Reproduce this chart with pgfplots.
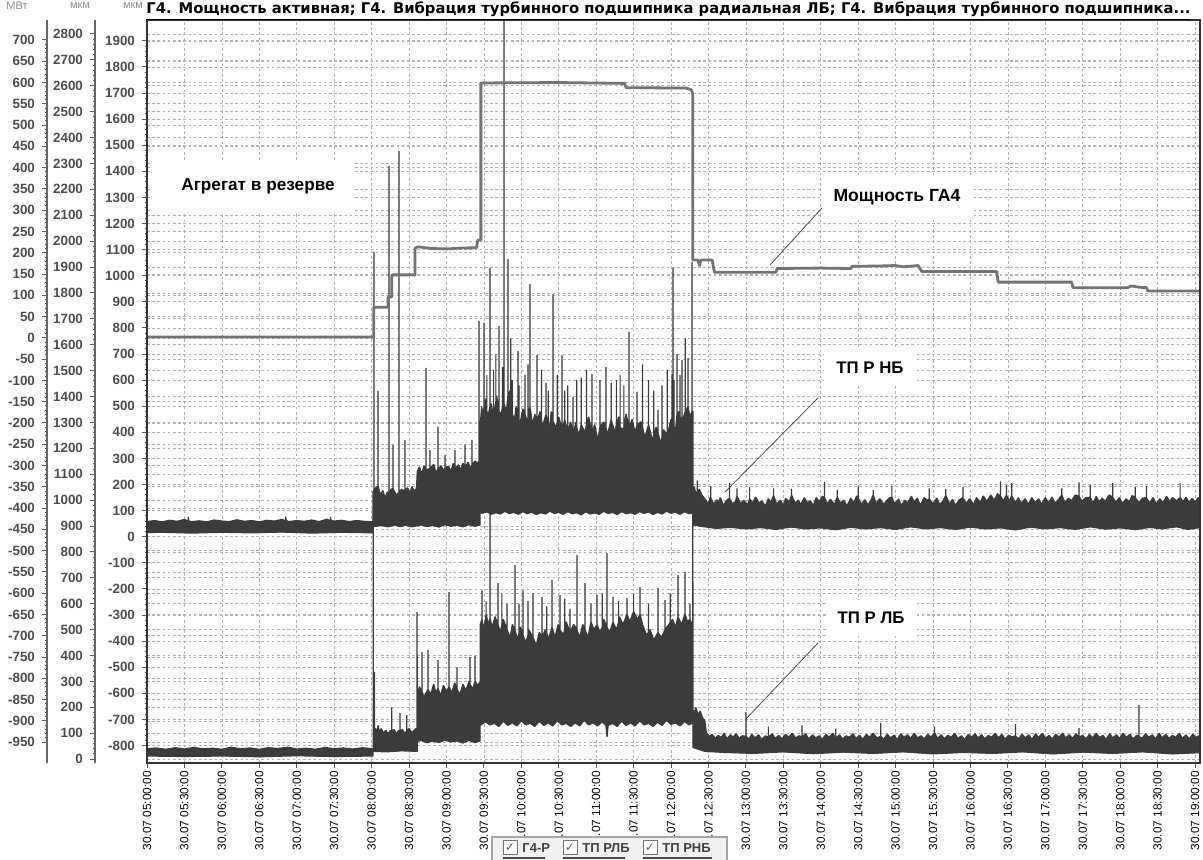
\documentclass[border=0pt]{standalone}
\usepackage{fontspec}
\setmainfont{Liberation Sans}
\newfontfamily\dejavu{DejaVu Sans}
\usepackage{pgfplots}
\pgfplotsset{compat=1.18}
\pgfplotsset{
  base/.style={at={(73.5pt,48.5pt)}, anchor=south west, scale only axis,
    width=526.5pt, height=371.5pt, xmin=5, xmax=19.066},
  gridonly/.style={base, axis line style={draw=none}, xtick=\empty,
    major tick length=0pt, minor tick length=0pt, yticklabel={\mbox{}}, ymajorgrids,
    grid style={gray!60, line width=0.35pt, dash pattern=on 1.3pt off 1.3pt}},
  ruler/.style={anchor=south west, scale only axis, width=1pt, height=371.5pt,
    xmin=0, xmax=1, axis y line=left, axis x line=none,
    y axis line style={-, line width=1.3pt, draw=black!60},
    tick align=outside, major tick length=2.5pt, minor tick length=1.2pt,
    tick style={black!65, line width=0.5pt}, minor y tick num=4,
    yticklabel style={font=\fontsize{6.7}{7}\bfseries\selectfont, text=black!70},
    /pgf/number format/assume math mode=true, /pgf/number format/1000 sep={}},
  band/.style={fill=black!77, draw=black!77, line width=0.6pt, line join=bevel},
}
\begin{document}
\begin{tikzpicture}
\path[use as bounding box] (0pt,0pt) rectangle (601.5pt,430pt);
% grids of axis 1 and axis 2
\begin{axis}[gridonly, ymin=-999, ymax=747, ytick={-950,-900,...,700}]
\end{axis}
\begin{axis}[gridonly, ymin=-15, ymax=2854, ytick={0,100,...,2800}]
\end{axis}
% main axis (axis 3, TP RNB)
\begin{axis}[base, ymin=-867, ymax=1980,
  xtick={5,5.5,...,19},
  xticklabels={30.07 05:00:00, 30.07 05:30:00, 30.07 06:00:00, 30.07 06:30:00, 30.07 07:00:00, 30.07 07:30:00, 30.07 08:00:00, 30.07 08:30:00, 30.07 09:00:00, 30.07 09:30:00, 30.07 10:00:00, 30.07 10:30:00, 30.07 11:00:00, 30.07 11:30:00, 30.07 12:00:00, 30.07 12:30:00, 30.07 13:00:00, 30.07 13:30:00, 30.07 14:00:00, 30.07 14:30:00, 30.07 15:00:00, 30.07 15:30:00, 30.07 16:00:00, 30.07 16:30:00, 30.07 17:00:00, 30.07 17:30:00, 30.07 18:00:00, 30.07 18:30:00, 30.07 19:00:00},
  x tick label style={rotate=90, anchor=east, font=\fontsize{5.9}{6}\selectfont, inner sep=1.5pt},
  ytick={-800,-700,...,1900}, minor y tick num=4,
  yticklabel style={font=\fontsize{6.7}{7}\bfseries\selectfont, text=black!70},
  /pgf/number format/assume math mode=true, /pgf/number format/1000 sep={},
  xmajorgrids, ymajorgrids,
  grid style={gray!60, line width=0.35pt, dash pattern=on 1.3pt off 1.3pt},
  axis line style={line width=1pt, black!80},
  tick align=outside, major tick length=2.5pt, minor tick length=1.2pt,
  tick style={black!65, line width=0.5pt}, tick pos=left]
\addplot[band] coordinates {
(5.00,16)
(5.00,58) (5.10,62) (5.20,57) (5.30,63) (5.40,59) (5.50,66) (5.55,60) (5.55,76) (5.56,60) (5.60,58) (5.70,61) (5.80,57) (5.90,64) (6.00,60) (6.10,58) (6.20,65) (6.30,59) (6.40,62) (6.50,57) (6.60,63) (6.70,60) (6.80,66) (6.85,62) (6.85,78) (6.86,62) (6.90,58) (7.00,62) (7.10,59) (7.20,64) (7.30,58) (7.40,67) (7.45,62) (7.45,76) (7.46,62) (7.50,60) (7.60,63) (7.70,58) (7.80,62) (7.90,59) (8.01,57)
(8.02,57) (8.02,175) (8.032,175) (8.032,1091) (8.032,175) (8.06,190) (8.086,195) (8.086,559) (8.086,195) (8.12,160) (8.15,178) (8.18,150) (8.21,172) (8.233,165) (8.233,1421) (8.233,165) (8.26,182) (8.286,185) (8.286,352) (8.286,185) (8.33,160) (8.366,170) (8.366,1478) (8.366,170) (8.40,182) (8.446,175) (8.446,370) (8.446,175) (8.48,188) (8.51,168) (8.54,192) (8.57,175) (8.60,185)
(8.61,250) (8.64,268) (8.67,240) (8.70,272) (8.727,255) (8.727,647) (8.727,255) (8.780,262) (8.780,332) (8.780,262) (8.83,278) (8.86,245) (8.887,260) (8.887,421) (8.887,260) (8.93,272) (8.96,252) (8.981,265) (8.981,313) (8.981,265) (9.03,270) (9.06,250) (9.09,282) (9.114,262) (9.114,332) (9.114,262) (9.16,276) (9.19,255) (9.22,282) (9.248,265) (9.248,352) (9.248,265) (9.29,286) (9.32,260) (9.341,275) (9.341,371) (9.341,275) (9.38,290) (9.42,282) (9.435,290) (9.435,827) (9.435,290)
(9.45,420) (9.47,500) (9.49,460) (9.502,500) (9.502,820) (9.502,500) (9.53,530) (9.54,480) (9.54,620) (9.54,480) (9.56,470) (9.582,500) (9.582,1030) (9.582,500) (9.60,510) (9.63,450) (9.63,640) (9.63,450) (9.66,520) (9.66,700) (9.66,520) (9.67,540) (9.702,480) (9.702,807) (9.702,480) (9.73,470) (9.75,500) (9.75,650) (9.75,500) (9.769,510) (9.769,2300) (9.769,510) (9.80,480) (9.822,540) (9.822,1064) (9.822,540) (9.85,560) (9.86,500) (9.86,760) (9.86,500) (9.88,470) (9.88,600) (9.88,470) (9.91,450) (9.93,500) (9.956,460) (9.956,712) (9.956,460) (9.97,440) (9.97,580) (9.97,440) (9.98,430) (10.02,490) (10.05,470) (10.05,620) (10.05,470) (10.08,440) (10.09,460) (10.09,660) (10.09,460) (10.116,500) (10.116,969) (10.116,500) (10.15,430) (10.18,470) (10.21,440) (10.21,697) (10.21,440) (10.25,480) (10.27,450) (10.27,640) (10.27,450) (10.28,420) (10.33,470) (10.33,590) (10.33,470) (10.36,420) (10.36,560) (10.36,420) (10.37,400) (10.40,480) (10.424,440) (10.424,930) (10.424,440) (10.46,420) (10.48,440) (10.48,620) (10.48,440) (10.50,460) (10.544,410) (10.544,697) (10.544,410) (10.58,450) (10.58,560) (10.58,450) (10.62,400) (10.62,580) (10.62,400) (10.66,440) (10.691,390) (10.691,535) (10.691,390) (10.73,440) (10.74,420) (10.74,600) (10.74,420) (10.77,390) (10.80,430) (10.80,610) (10.80,430) (10.85,400) (10.87,430) (10.87,640) (10.87,430) (10.90,460) (10.944,400) (10.944,623) (10.944,400) (10.98,430) (11.02,370) (11.05,420) (11.05,600) (11.05,420) (11.10,440) (11.13,420) (11.13,650) (11.13,420) (11.15,390) (11.20,450) (11.20,590) (11.20,450) (11.25,400) (11.27,430) (11.27,600) (11.27,430) (11.30,460) (11.32,420) (11.32,620) (11.32,420) (11.36,410) (11.37,420) (11.37,580) (11.37,420) (11.40,470) (11.439,420) (11.439,785) (11.439,420) (11.48,450) (11.52,400) (11.546,430) (11.546,555) (11.546,430) (11.60,440) (11.62,420) (11.62,660) (11.62,420) (11.65,380) (11.70,430) (11.70,600) (11.70,430) (11.75,370) (11.77,390) (11.77,560) (11.77,390) (11.80,420) (11.826,400) (11.826,486) (11.826,400) (11.86,360) (11.88,380) (11.88,580) (11.88,380) (11.90,410) (11.95,390) (11.95,640) (11.95,390) (12.00,450) (12.013,430) (12.013,623) (12.013,430) (12.027,440) (12.027,1030) (12.027,440) (12.04,420) (12.04,600) (12.04,420) (12.06,410) (12.08,470) (12.08,700) (12.08,470) (12.11,480) (12.12,460) (12.12,620) (12.12,460) (12.147,440) (12.147,677) (12.147,440) (12.19,480) (12.19,760) (12.19,480) (12.227,500) (12.227,685) (12.227,500) (12.25,460) (12.28,480) (12.28,1053) (12.28,480)
(12.293,480) (12.293,175) (12.31,190) (12.33,168) (12.35,172) (12.35,215) (12.35,172) (12.38,182) (12.41,160) (12.44,150) (12.47,138) (12.50,128) (12.52,150) (12.53,150) (12.53,195) (12.53,150) (12.57,125) (12.61,142) (12.63,132) (12.66,150) (12.70,120) (12.74,138) (12.78,148) (12.78,205) (12.78,148) (12.82,126) (12.86,135) (12.88,155) (12.88,185) (12.88,155) (12.93,128) (12.97,140) (13.02,122) (13.05,145) (13.05,190) (13.05,145) (13.09,130) (13.13,152) (13.18,128) (13.21,138) (13.26,118) (13.30,146) (13.33,132) (13.37,158) (13.37,185) (13.37,158) (13.41,126) (13.46,140) (13.50,120) (13.53,147) (13.58,134) (13.61,160) (13.61,182) (13.61,160) (13.66,128) (13.70,141) (13.73,122) (13.78,150) (13.82,130) (13.86,138) (13.90,120) (13.94,150) (13.98,135) (14.02,155) (14.05,150) (14.05,210) (14.05,150) (14.09,126) (14.13,144) (14.18,124) (14.22,152) (14.22,180) (14.22,152) (14.26,130) (14.31,140) (14.35,118) (14.40,148) (14.44,132) (14.48,156) (14.50,150) (14.50,192) (14.50,150) (14.54,125) (14.59,142) (14.63,122) (14.67,140) (14.70,160) (14.70,180) (14.70,160) (14.74,128) (14.79,146) (14.84,124) (14.88,138) (14.92,150) (14.95,150) (14.95,195) (14.95,150) (14.99,126) (15.04,145) (15.08,120) (15.12,140) (15.16,130) (15.21,155) (15.25,134) (15.29,148) (15.33,122) (15.38,150) (15.42,140) (15.45,145) (15.45,185) (15.45,145) (15.50,126) (15.55,148) (15.59,124) (15.63,136) (15.67,158) (15.67,182) (15.67,158) (15.72,126) (15.76,144) (15.80,120) (15.85,142) (15.90,150) (15.90,190) (15.90,150) (15.94,128) (15.99,146) (16.04,124) (16.08,150) (16.13,132) (16.17,156) (16.22,136) (16.27,160) (16.32,140) (16.36,165) (16.40,155) (16.40,212) (16.40,155) (16.44,138) (16.48,160) (16.48,198) (16.48,160) (16.52,136) (16.55,158) (16.55,205) (16.55,158) (16.60,130) (16.64,150) (16.68,128) (16.73,146) (16.77,124) (16.82,150) (16.86,132) (16.91,145) (16.95,125) (17.00,150) (17.04,130) (17.09,152) (17.13,128) (17.18,145) (17.22,160) (17.22,185) (17.22,160) (17.26,132) (17.31,148) (17.35,138) (17.40,160) (17.45,155) (17.45,208) (17.45,155) (17.49,136) (17.54,150) (17.60,150) (17.60,198) (17.60,150) (17.64,130) (17.68,155) (17.72,133) (17.76,148) (17.80,136) (17.85,160) (17.90,152) (17.90,205) (17.90,152) (17.94,132) (17.99,150) (18.03,128) (18.08,145) (18.12,134) (18.16,158) (18.20,150) (18.20,190) (18.20,150) (18.25,132) (18.30,148) (18.35,150) (18.35,195) (18.35,150) (18.39,130) (18.44,150) (18.48,126) (18.53,146) (18.57,130) (18.62,155) (18.66,135) (18.70,150) (18.75,138) (18.80,150) (18.80,205) (18.80,150) (18.84,135) (18.88,152) (18.92,130) (18.96,148) (19.00,132) (19.04,150) (19.07,140)
(19.07,35) (18.9,28) (18.75,38) (18.55,30) (18.4,36) (18.2,27) (18.0,34) (17.8,29) (17.6,38) (17.4,28) (17.2,35) (17.0,30) (16.8,37) (16.6,26) (16.4,34) (16.2,30) (16.0,37) (15.8,28) (15.6,35) (15.4,30) (15.2,38) (15.0,28) (14.8,35) (14.6,30) (14.4,36) (14.2,27) (14.0,34) (13.8,30) (13.6,37) (13.4,28) (13.2,35) (13.0,30) (12.8,36) (12.6,32) (12.4,40) (12.294,45)
(12.294,92) (12.24,88) (12.18,96) (12.12,86) (12.06,94) (12.00,90) (11.94,98) (11.88,87) (11.82,93) (11.76,85) (11.70,95) (11.64,89) (11.58,97) (11.52,86) (11.46,92) (11.40,88) (11.34,96) (11.28,85) (11.22,93) (11.16,89) (11.10,97) (11.04,86) (10.98,91) (10.92,87) (10.86,95) (10.80,84) (10.74,92) (10.68,88) (10.62,96) (10.56,86) (10.50,93) (10.44,89) (10.38,98) (10.32,87) (10.26,92) (10.20,85) (10.14,94) (10.08,88) (10.02,96) (9.96,86) (9.90,93) (9.84,89) (9.78,97) (9.72,87) (9.66,92) (9.60,86) (9.54,95) (9.48,90) (9.45,92)
(9.45,45) (9.38,40) (9.30,46) (9.22,38) (9.14,44) (9.06,40) (8.98,46) (8.90,37) (8.82,43) (8.74,39) (8.66,45) (8.61,42) (8.54,38) (8.46,44) (8.38,39) (8.30,45) (8.22,38) (8.14,43) (8.06,40) (8.02,40)
(8.02,15) (7.6,17) (7.2,14) (6.8,18) (6.4,15) (6.0,17) (5.6,14) (5.2,17) (5.0,16)
};
\end{axis}
% TP RLB on axis 2
\begin{axis}[base, hide axis, ymin=-15, ymax=2854]
\addplot[band] coordinates {
(5.00,12)
(5.00,40) (5.12,43) (5.25,38) (5.38,44) (5.50,39) (5.62,45) (5.75,40) (5.88,42) (6.00,38) (6.12,46) (6.25,40) (6.38,43) (6.50,38) (6.62,44) (6.75,41) (6.88,46) (7.00,39) (7.12,42) (7.25,38) (7.38,45) (7.50,40) (7.62,43) (7.75,39) (7.88,44) (8.01,40)
(8.022,40) (8.022,950) (8.022,130) (8.04,130) (8.04,336) (8.04,120) (8.07,110) (8.09,131) (8.10,105) (8.13,118) (8.16,100) (8.19,112) (8.22,98) (8.25,110) (8.27,105) (8.27,200) (8.27,105) (8.30,115) (8.33,98) (8.36,110) (8.38,105) (8.38,178) (8.38,105) (8.41,115) (8.44,100) (8.47,108) (8.47,170) (8.47,108) (8.50,118) (8.54,102) (8.58,115)
(8.607,120) (8.607,568) (8.61,250) (8.64,280) (8.674,260) (8.674,413) (8.674,260) (8.70,240) (8.754,270) (8.754,421) (8.754,270) (8.79,250) (8.83,290) (8.86,255) (8.887,275) (8.887,382) (8.887,275) (8.92,245) (8.96,285) (9.00,260) (9.034,280) (9.034,645) (9.034,280) (9.07,255) (9.11,295) (9.141,270) (9.141,355) (9.141,270) (9.18,250) (9.22,290) (9.26,265) (9.30,300) (9.315,290) (9.315,394) (9.315,290) (9.35,270) (9.38,300) (9.38,400) (9.38,300) (9.42,285)
(9.45,300) (9.45,520) (9.475,540) (9.475,652) (9.475,540) (9.50,500) (9.53,560) (9.53,610) (9.53,560) (9.56,520) (9.582,545) (9.582,954) (9.582,545) (9.61,510) (9.65,550) (9.689,520) (9.689,680) (9.689,520) (9.72,490) (9.74,520) (9.74,640) (9.74,520) (9.76,540) (9.809,500) (9.809,600) (9.809,500) (9.85,470) (9.88,520) (9.916,500) (9.916,749) (9.916,500) (9.95,460) (9.97,490) (9.97,600) (9.97,490) (9.99,510) (10.023,480) (10.023,652) (10.023,480) (10.06,450) (10.09,480) (10.09,610) (10.09,480) (10.10,500) (10.156,470) (10.156,641) (10.156,470) (10.20,440) (10.24,490) (10.277,470) (10.277,626) (10.277,470) (10.32,500) (10.34,490) (10.34,590) (10.34,490) (10.36,460) (10.41,510) (10.41,691) (10.41,510) (10.45,470) (10.49,520) (10.517,500) (10.517,633) (10.517,500) (10.56,480) (10.58,500) (10.58,620) (10.58,500) (10.60,530) (10.65,490) (10.65,580) (10.65,490) (10.70,520) (10.744,500) (10.744,788) (10.744,500) (10.78,470) (10.82,520) (10.851,500) (10.851,680) (10.851,500) (10.89,470) (10.93,530) (10.93,600) (10.93,530) (10.97,500) (11.011,520) (11.011,633) (11.011,520) (11.05,490) (11.08,510) (11.08,640) (11.08,510) (11.10,540) (11.145,510) (11.145,795) (11.145,510) (11.18,490) (11.225,530) (11.225,625) (11.225,530) (11.27,500) (11.30,530) (11.30,610) (11.30,530) (11.31,550) (11.36,520) (11.412,560) (11.412,622) (11.412,560) (11.45,530) (11.50,570) (11.50,640) (11.50,570) (11.55,540) (11.586,560) (11.586,664) (11.586,560) (11.62,520) (11.67,480) (11.70,490) (11.70,600) (11.70,490) (11.72,500) (11.77,460) (11.826,490) (11.826,660) (11.826,490) (11.87,470) (11.92,500) (11.92,614) (11.92,500) (11.97,520) (11.99,530) (11.99,640) (11.99,530) (12.02,540) (12.06,510) (12.093,550) (12.093,710) (12.093,550) (12.14,520) (12.187,560) (12.187,722) (12.187,560) (12.22,530) (12.253,540) (12.253,600) (12.253,540) (12.28,520) (12.29,520) (12.29,1000) (12.293,520)
(12.293,190) (12.31,178) (12.33,200) (12.36,172) (12.39,185) (12.42,160) (12.45,150) (12.47,105) (12.51,88) (12.55,96) (12.59,80) (12.63,92) (12.67,84) (12.71,100) (12.75,78) (12.79,94) (12.83,85) (12.87,98) (12.91,80) (12.95,90) (13.00,88) (13.00,181) (13.00,88) (13.04,78) (13.08,96) (13.12,82) (13.17,94) (13.21,76) (13.26,90) (13.30,84) (13.30,125) (13.30,84) (13.35,98) (13.39,80) (13.44,92) (13.48,78) (13.53,96) (13.57,84) (13.62,100) (13.66,82) (13.71,90) (13.75,86) (13.75,130) (13.75,86) (13.80,98) (13.84,78) (13.89,94) (13.93,82) (13.98,90) (14.02,76) (14.07,96) (14.11,84) (14.16,100) (14.20,80) (14.20,118) (14.20,80) (14.25,94) (14.29,78) (14.34,90) (14.38,84) (14.43,98) (14.47,80) (14.52,92) (14.56,76) (14.61,96) (14.65,84) (14.70,100) (14.75,82) (14.80,88) (14.80,140) (14.80,88) (14.84,78) (14.89,96) (14.93,82) (14.98,92) (15.02,76) (15.07,98) (15.11,84) (15.16,94) (15.20,80) (15.25,100) (15.29,82) (15.34,90) (15.38,78) (15.43,96) (15.47,84) (15.52,102) (15.52,125) (15.52,102) (15.56,80) (15.61,94) (15.65,78) (15.70,92) (15.74,84) (15.79,100) (15.83,80) (15.88,90) (15.92,76) (15.97,96) (16.01,84) (16.06,98) (16.10,82) (16.15,94) (16.19,78) (16.24,92) (16.28,84) (16.33,100) (16.37,82) (16.42,96) (16.46,78) (16.51,92) (16.56,86) (16.60,90) (16.60,135) (16.60,90) (16.64,78) (16.69,96) (16.73,82) (16.78,94) (16.82,76) (16.87,98) (16.91,84) (16.96,100) (17.00,80) (17.05,92) (17.09,78) (17.14,96) (17.18,84) (17.23,100) (17.27,82) (17.32,94) (17.36,80) (17.41,98) (17.45,84) (17.45,120) (17.45,84) (17.50,92) (17.54,78) (17.59,96) (17.63,82) (17.68,100) (17.72,84) (17.77,92) (17.81,76) (17.86,98) (17.90,82) (17.95,94) (17.99,80) (18.04,100) (18.08,84) (18.13,96) (18.17,78) (18.22,92) (18.25,88) (18.25,208) (18.25,88) (18.29,80) (18.34,98) (18.38,84) (18.43,94) (18.47,78) (18.52,100) (18.56,82) (18.61,96) (18.65,80) (18.70,92) (18.74,84) (18.79,100) (18.83,80) (18.88,94) (18.92,78) (18.97,96) (19.01,84) (19.07,92)
(19.07,25) (18.7,20) (18.3,28) (17.9,22) (17.5,27) (17.1,20) (16.7,28) (16.3,22) (15.9,26) (15.5,20) (15.1,28) (14.7,22) (14.3,27) (13.9,21) (13.5,28) (13.1,22) (12.7,26) (12.45,30) (12.293,45)
(12.293,140) (12.24,132) (12.18,145) (12.12,128) (12.06,140) (12.00,134) (11.94,150) (11.88,130) (11.82,142) (11.76,126) (11.70,138) (11.64,132) (11.58,148) (11.52,128) (11.46,140) (11.40,130) (11.34,146) (11.28,126) (11.22,138) (11.16,130) (11.145,85) (11.13,130) (11.08,144) (11.02,128) (10.96,140) (10.90,132) (10.84,150) (10.78,128) (10.72,140) (10.66,126) (10.60,138) (10.54,132) (10.48,148) (10.42,128) (10.36,140) (10.30,130) (10.24,146) (10.18,126) (10.12,138) (10.06,132) (10.00,148) (9.94,128) (9.88,140) (9.82,130) (9.76,146) (9.70,126) (9.64,138) (9.58,132) (9.52,144) (9.45,130)
(9.45,70) (9.38,64) (9.30,72) (9.22,62) (9.14,70) (9.06,66) (8.98,74) (8.90,64) (8.82,70) (8.74,63) (8.66,72) (8.61,68)
(8.61,30) (8.4,32) (8.2,28) (8.02,30) (8.02,12) (7.5,10) (7.0,13) (6.5,9) (6.0,12) (5.5,10) (5.0,12)
};
\end{axis}
% power on axis 1
\begin{axis}[base, hide axis, ymin=-999, ymax=747]
\addplot[draw=black!55, line width=1.4pt, line join=round] coordinates {
(5.00,2) (8.03,2) (8.03,72) (8.22,72) (8.22,96) (8.27,96) (8.27,148) (8.58,148) (8.58,211) (8.62,214) (8.80,210) (9.00,209) (9.20,211) (9.40,212) (9.42,230) (9.46,230) (9.46,599) (10.50,600) (11.38,598) (11.40,588) (12.20,587) (12.27,583) (12.29,575) (12.29,183) (12.36,183) (12.38,170) (12.40,183) (12.55,183) (12.58,154) (13.40,154) (13.42,163) (14.00,164) (14.40,163) (14.42,168) (14.80,169) (15.00,170) (15.10,167) (15.30,170) (15.35,156) (16.35,156) (16.37,131) (17.35,131) (17.37,118) (18.10,118) (18.15,122) (18.25,119) (18.35,118) (18.37,110) (19.07,110)
};
\end{axis}
% rulers
\begin{axis}[ruler, at={(23.5pt,48.5pt)}, ymin=-999, ymax=747, ytick={-950,-900,...,700}]
\end{axis}
\begin{axis}[ruler, at={(47.5pt,48.5pt)}, ymin=-15, ymax=2854, ytick={0,100,...,2800}]
\end{axis}
\draw[line width=1pt, black!80] (73.5pt,48.5pt) rectangle ++(526.5pt,371.5pt);
% annotations
\fill[white] (75pt,324pt) rectangle (176pt,349pt);
\node[font=\bfseries\fontsize{8.6}{9.5}\selectfont] at (129pt,337pt) {Агрегат в резерве};
\node[fill=white, inner sep=6pt, font=\bfseries\fontsize{8.8}{9.5}\selectfont] at (448.5pt,331.5pt) {Мощность ГА4};
\node[fill=white, inner sep=6pt, font=\bfseries\fontsize{8.4}{9.5}\selectfont] at (435pt,246pt) {ТП Р НБ};
\node[fill=white, inner sep=6pt, font=\bfseries\fontsize{8.4}{9.5}\selectfont] at (435.5pt,121pt) {ТП Р ЛБ};
\draw[black!70, line width=0.4pt] (411pt,326pt) -- (385pt,297.5pt);
\draw[black!70, line width=0.4pt] (409pt,231pt) -- (362.5pt,184pt);
\draw[black!70, line width=0.4pt] (409pt,108.5pt) -- (372.5pt,70pt);
% title and unit labels
\node[anchor=base west, inner sep=0pt] at (73pt,423pt) {\resizebox{522pt}{!}{\dejavu\bfseries\underline{Г4. Мощность активная; Г4. Вибрация турбинного подшипника радиальная ЛБ; Г4. Вибрация турбинного подшипника...}}};
\node[font=\fontsize{5.5}{6}\selectfont, text=black!45] at (8.5pt,427pt) {МВт};
\node[font=\fontsize{5.5}{6}\selectfont, text=black!45] at (40pt,427pt) {мкм};
\node[font=\fontsize{5.5}{6}\selectfont, text=black!45] at (66.5pt,427pt) {мкм};
% legend
\draw[gray!70, fill=gray!12, line width=0.6pt] (246pt,-1pt) rectangle (363.5pt,11.5pt);
\foreach \xx/\lab/\ul in {251.5/Г4-Р/21, 281.5/ТП РЛБ/31, 321.5/ТП РНБ/34.5}{
  \draw[black!55, fill=white, line width=0.5pt] (\xx pt,2.5pt) rectangle ++(7pt,7pt);
  \node[font=\dejavu\fontsize{6}{6}\selectfont, text=black!65, inner sep=0pt] at (\xx pt+3.5pt,6pt) {✓};
  \node[anchor=west, inner sep=0pt, text=black!75, font=\bfseries\fontsize{6.5}{7}\selectfont] at (\xx pt+9.5pt,6pt) {\lab};
  \draw[black!70, line width=0.9pt] (\xx pt,1pt) -- ++(\ul pt,0);
}
\end{tikzpicture}
\end{document}
